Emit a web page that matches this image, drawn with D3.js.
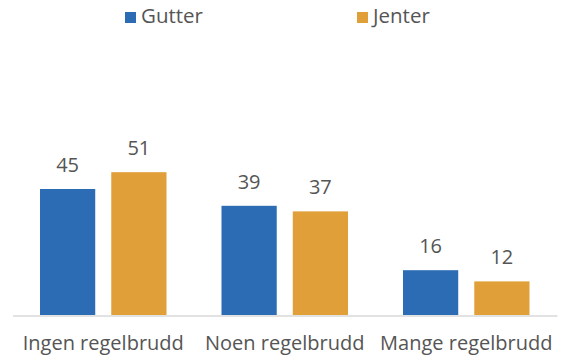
<!DOCTYPE html>
<html>
<head>
<meta charset="utf-8">
<script src="https://cdn.jsdelivr.net/npm/d3@7/dist/d3.min.js"></script>
<style>
  html, body { margin: 0; padding: 0; background: #fff; }
  svg { display: block; }
  text { font-family: "Open Sans", "Noto Sans", sans-serif; fill: #555555; }
</style>
</head>
<body>
<script>
// Share of pupils by number of rule violations, boys vs girls
const categories = ["Ingen regelbrudd", "Noen regelbrudd", "Mange regelbrudd"];
const seriesNames = ["Gutter", "Jenter"];
const gutter = [45, 39, 16];
const jenter = [51, 37, 12];
const colors = ["#2B6CB5", "#E09F38"];

const W = 570, H = 358;
const plot = { left: 12.5, right: 557, top: 30, bottom: 315 };

const svg = d3.select("body").append("svg").attr("width", W).attr("height", H);

const x0 = d3.scaleBand().domain(categories).range([plot.left, plot.right]).paddingInner(0).paddingOuter(0);
const x1 = d3.scaleBand().domain(seriesNames).range([27.5, x0.bandwidth() - 27.5]).paddingInner(0.225);
const y = d3.scaleLinear().domain([0, 102]).range([plot.bottom, plot.bottom - 102 * 2.8]);

const rows = categories.map((c, i) => ({ c, vals: [gutter[i], jenter[i]] }));

const g = svg.selectAll("g.cat").data(rows).join("g")
  .attr("transform", d => `translate(${x0(d.c)},0)`);

g.selectAll("rect").data(d => d.vals.map((v, k) => ({ v, k }))).join("rect")
  .attr("x", d => x1(seriesNames[d.k]))
  .attr("width", x1.bandwidth())
  .attr("y", d => y(d.v))
  .attr("height", d => y(0) - y(d.v))
  .attr("fill", d => colors[d.k]);

g.selectAll("text.val").data(d => d.vals.map((v, k) => ({ v, k }))).join("text")
  .attr("class", "val")
  .attr("x", d => x1(seriesNames[d.k]) + x1.bandwidth() / 2)
  .attr("y", d => y(d.v) - 17)
  .attr("text-anchor", "middle")
  .attr("font-size", 20)
  .text(d => d.v);

// baseline axis
const xAxis = d3.axisBottom(x0).tickSize(0).tickPadding(20);
const ax = svg.append("g").attr("transform", `translate(0,${plot.bottom + 0.5})`).call(xAxis);
ax.select(".domain").attr("stroke", "#d9d9d9").attr("stroke-width", 1.5);
ax.selectAll("text").attr("font-size", 20).style("fill", "#555555")
  .style("font-family", "'Open Sans', 'Noto Sans', sans-serif");

// legend
const legendX = [125, 357];
const lg = svg.selectAll("g.leg").data(seriesNames).join("g")
  .attr("transform", (d, i) => `translate(${legendX[i]},12)`);
lg.append("rect").attr("width", 11).attr("height", 11).attr("fill", (d, i) => colors[i]);
lg.append("text").attr("x", 16).attr("y", 11).attr("font-size", 20.5).text(d => d);
</script>
</body>
</html>
